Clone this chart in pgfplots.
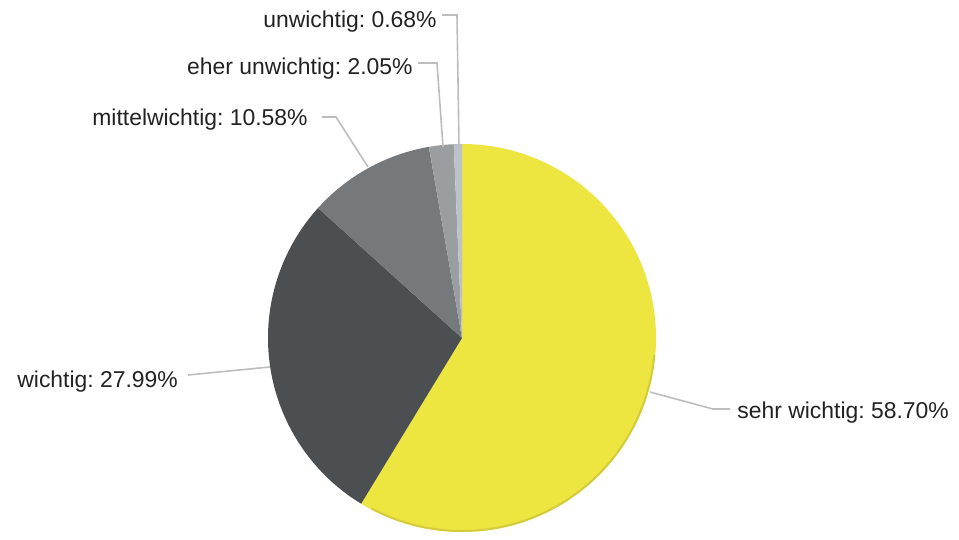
\documentclass[border=0pt]{standalone}
\usepackage{pgfplots}
\pgfplotsset{compat=1.18}
\usepackage{pgfplotstable}
\usepackage{fontspec}
\setmainfont{Liberation Sans}
\frenchspacing
\definecolor{pie0}{HTML}{EDE540}
\definecolor{pie1}{HTML}{4B4F52}
\definecolor{pie2}{HTML}{76797C}
\definecolor{pie3}{HTML}{9B9EA1}
\definecolor{pie4}{HTML}{BCC3C8}
\definecolor{leader}{HTML}{BDBDBD}
\definecolor{txt}{HTML}{222222}
\definecolor{rim}{HTML}{C9C13A}

\pgfplotstableread{
label value
sehr 58.70
wichtig 27.99
mittel 10.58
eher 2.05
un 0.68
}\piedata

\tikzset{lbl/.style={font=\fontsize{11.5}{13}\selectfont, text=txt, inner sep=0pt}}

\begin{document}
\begin{tikzpicture}
% cumulative start / end angles (clockwise from the top)
\gdef\cum{0}
\foreach \i in {0,...,4}{
  \pgfplotstablegetelem{\i}{value}\of\piedata
  \pgfmathsetmacro\s{90-3.6*\cum}
  \pgfmathsetmacro\newcum{\cum+\pgfplotsretval}
  \pgfmathsetmacro\e{90-3.6*\newcum}
  \expandafter\xdef\csname sA\i\endcsname{\s}
  \expandafter\xdef\csname eA\i\endcsname{\e}
  \xdef\cum{\newcum}
}
\begin{axis}[
  x=0.5bp, y=0.5bp,
  xmin=0, xmax=959, ymin=0, ymax=533,
  hide axis, clip=false,
]
\path (axis cs:0,0) rectangle (axis cs:959,533);
\pgfplotsinvokeforeach{0,...,4}{
  \edef\temp{\noexpand\fill[pie#1] (axis cs:462,195) -- ++(\csname sA#1\endcsname:97bp)
    arc[start angle=\csname sA#1\endcsname, end angle=\csname eA#1\endcsname, radius=97bp] -- cycle;}
  \temp
}
% darker rim on the lower right
\draw[rim, line width=1bp, opacity=0.7] (axis cs:462,195) ++(-5:96.5bp) arc[start angle=-5, end angle=-118, radius=96.5bp];

% leader lines
\draw[leader, line width=0.8bp] (axis cs:442,518) -- (axis cs:457,518) -- (axis cs:459,387);
\draw[leader, line width=0.8bp] (axis cs:418,470) -- (axis cs:437,470) -- (axis cs:443,386);
\draw[leader, line width=0.8bp] (axis cs:322,416) -- (axis cs:336,416) -- (axis cs:368,366);
\draw[leader, line width=0.8bp] (axis cs:188,158) -- (axis cs:270,166);
\draw[leader, line width=0.8bp] (axis cs:650,141) -- (axis cs:713,124) -- (axis cs:730,124);

% labels
\node[lbl, anchor=base east] at (axis cs:437,506) {unwichtig: 0.68\%};
\node[lbl, anchor=base east] at (axis cs:413,459) {eher unwichtig: 2.05\%};
\node[lbl, anchor=base east] at (axis cs:308,408) {mittelwichtig: 10.58\%};
\node[lbl, anchor=base west] at (axis cs:17,146) {wichtig: 27.99\%};
\node[lbl, anchor=base west] at (axis cs:737,115) {sehr wichtig: 58.70\%};
\end{axis}
\end{tikzpicture}
\end{document}
